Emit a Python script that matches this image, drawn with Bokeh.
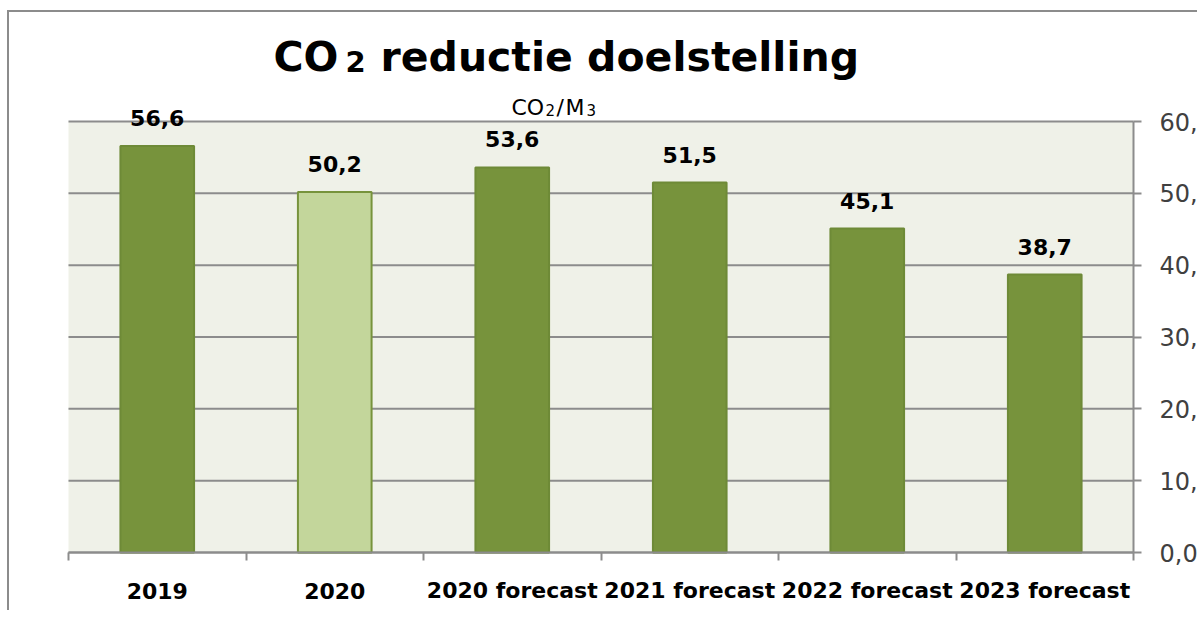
from bokeh.plotting import figure
from bokeh.models import Range1d, FixedTicker
from bokeh.core.properties import value
from bokeh.embed import file_html
from bokeh.resources import INLINE

# ---- data ----
categories = ["2019", "2020", "2020 forecast", "2021 forecast", "2022 forecast", "2023 forecast"]
values = [56.6, 50.2, 53.6, 51.5, 45.1, 38.7]
bar_colors = ["#77933C", "#C3D69B", "#77933C", "#77933C", "#77933C", "#77933C"]
bar_line_colors = ["#6E8A37", "#77933C", "#6E8A37", "#6E8A37", "#6E8A37", "#6E8A37"]
y_ticks = [0, 10, 20, 30, 40, 50, 60]
y_tick_labels = ["0,0", "10,0", "20,0", "30,0", "40,0", "50,0", "60,0"]
title_big = ["CO", "reductie doelstelling"]
title_small = ["2"]
subtitle_big = ["CO", "/", "M"]
subtitle_small = ["2", "3"]

value_labels = [f"{v:.1f}".replace(".", ",") for v in values]
n = len(categories)
xs = [i + 0.5 for i in range(n)]
Y_MAX = 60

FONT = "DejaVu Sans"
GRID = "#8C8C8C"

# ---- layout (page pixels) ----
OX, OY = 9, 12                 # canvas origin on the page (after css margin + border)
FW, FH = 1188, 594             # frame size (frame starts at canvas origin)
PX0, PX1 = 68.0, 1133.0        # page x of category axis start / end
PY0, PY60 = 552.0, 121.0       # page y of value 0 / 60

sx = (PX1 - PX0) / n
sy = (PY0 - PY60) / Y_MAX
x_lo = -(PX0 - OX) / sx
x_hi = x_lo + FW / sx
y_hi = (PY0 - OY) / sy
y_lo = y_hi - FH / sy


def px_x(px):
    return (px - OX) / sx + x_lo


def px_y(py):
    return (PY0 - py) / sy


def mid(baseline_px, size):
    # vertical centre of a text line whose baseline sits at baseline_px
    return px_y(baseline_px - 0.38 * size)


p = figure(frame_width=FW, frame_height=FH,
           x_range=Range1d(x_lo, x_hi), y_range=Range1d(y_lo, y_hi),
           output_backend="svg", toolbar_location=None,
           min_border_left=0, min_border_top=0,
           min_border_right=0, min_border_bottom=4)
p.styles = {"margin-left": "7px", "margin-top": "10px",
            "border-left": "2px solid #8C8C8C", "border-top": "2px solid #8C8C8C"}

p.background_fill_color = "white"
p.border_fill_color = "white"
p.outline_line_color = None
p.xgrid.visible = False
p.ygrid.visible = False

# plot area background and gridlines
p.quad(left=[0], right=[n], bottom=[0], top=[Y_MAX], fill_color="#EFF1E8",
       line_color=None, level="image")
p.segment(x0=[0] * len(y_ticks), x1=[n] * len(y_ticks), y0=y_ticks, y1=y_ticks,
          line_color=GRID, line_width=2, level="underlay")

# bars
p.vbar(x=xs, top=values, width=0.415, fill_color=bar_colors,
       line_color=bar_line_colors, line_width=2)

# value labels (baseline ~18px above the bar)
p.text(x=xs, y=values, text=value_labels, y_offset=-28,
       text_font=value(FONT), text_font_size="22px", text_font_style="bold",
       text_color="#000000", text_baseline="middle", text_align="center")

# category axis: line at 0, ticks at category boundaries
xa = p.xaxis[0]
xa.fixed_location = 0
xa.bounds = (0, n)
xa.ticker = FixedTicker(ticks=[], minor_ticks=list(range(n + 1)))
xa.major_tick_line_color = None
xa.major_tick_out = 0
xa.major_tick_in = 0
xa.minor_tick_out = 8
xa.minor_tick_in = 0
xa.minor_tick_line_color = GRID
xa.minor_tick_line_width = 2
xa.axis_line_color = GRID
xa.axis_line_width = 2

# category labels, centred under each category
p.text(x=xs, y=[0] * n, text=categories, y_offset=38,
       text_font=value(FONT), text_font_size="22px", text_font_style="bold",
       text_color="#000000", text_baseline="middle", text_align="center")

# value axis drawn at the end of the categories, ticks pointing right
ya = p.yaxis[0]
ya.fixed_location = n
ya.bounds = (0, Y_MAX)
ya.ticker = FixedTicker(ticks=y_ticks)
ya.major_label_overrides = {t: "" for t in y_ticks}
ya.major_label_standoff = 0
ya.major_tick_out = 0
ya.major_tick_in = 8
ya.major_tick_line_color = GRID
ya.major_tick_line_width = 2
ya.minor_tick_line_color = None
ya.axis_line_color = GRID
ya.axis_line_width = 2

p.text(x=[n] * len(y_ticks), y=y_ticks, text=y_tick_labels, x_offset=26,
       text_font=value(FONT), text_font_size="24px",
       text_color="#404040", text_baseline="middle", text_align="left")

# title
p.text(x=[px_x(273), px_x(380)], y=[mid(72, 41)] * 2, text=title_big,
       text_font=value(FONT), text_font_size="41px", text_font_style="bold",
       text_color="#000000", text_baseline="middle", text_align="left")
p.text(x=[px_x(345)], y=[mid(72, 29)], text=title_small,
       text_font=value(FONT), text_font_size="29px", text_font_style="bold",
       text_color="#000000", text_baseline="middle", text_align="left")

# subtitle (unit)
p.text(x=[px_x(511), px_x(556), px_x(565)], y=[mid(115, 22)] * 3, text=subtitle_big,
       text_font=value(FONT), text_font_size="22px",
       text_color="#000000", text_baseline="middle", text_align="left")
p.text(x=[px_x(545), px_x(586)], y=[mid(115, 15)] * 2, text=subtitle_small,
       text_font=value(FONT), text_font_size="15px",
       text_color="#000000", text_baseline="middle", text_align="left")

open("out.html", "w").write(file_html(p, INLINE))
